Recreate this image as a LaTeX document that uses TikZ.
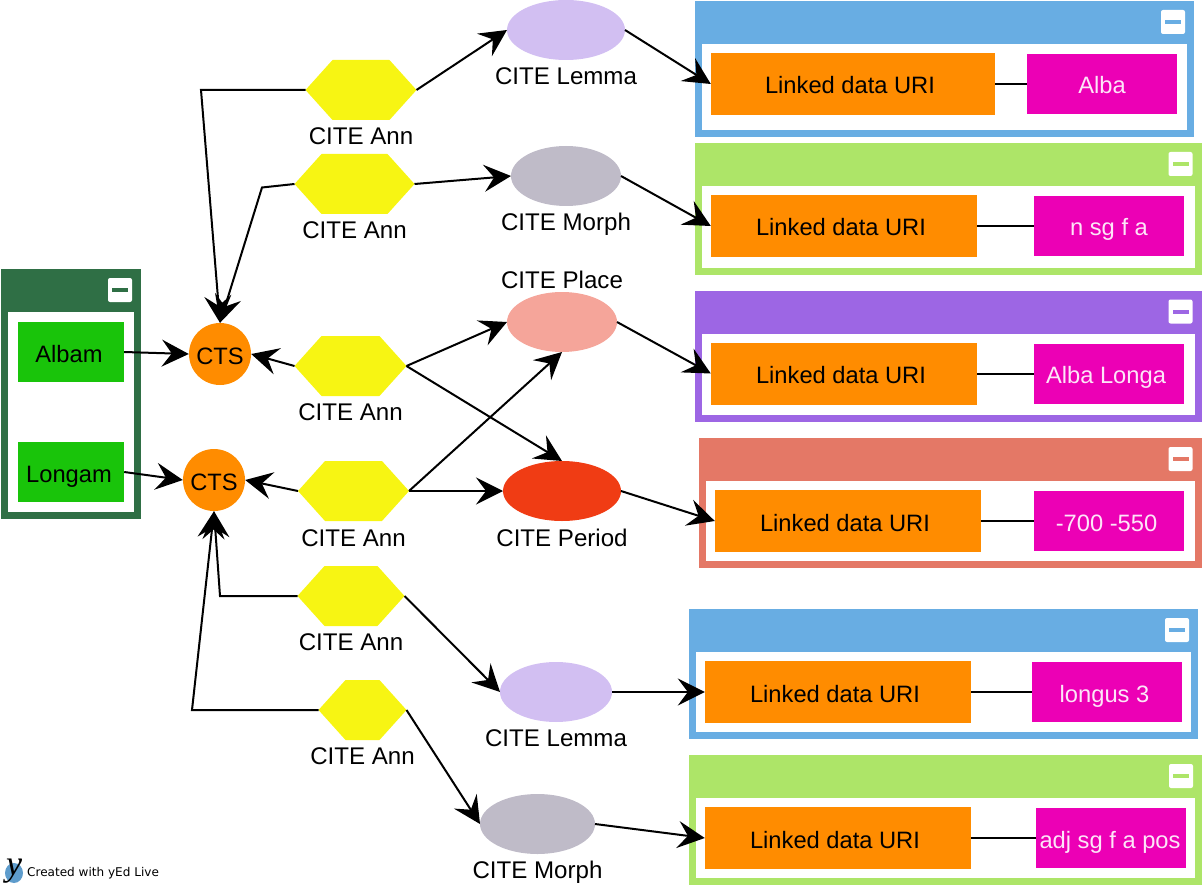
\documentclass[tikz,border=0pt]{standalone}
\usepackage{fontspec}
\setmainfont{Liberation Sans}
\newfontfamily\logofont{DejaVu Sans}
\newfontfamily\logoy{Liberation Serif}
\usepackage{xcolor}
\usetikzlibrary{positioning,arrows.meta,shapes.geometric,shapes.symbols,fit}

\definecolor{hexyellow}{HTML}{F7F513}
\definecolor{ctsorange}{HTML}{FF8C00}
\definecolor{wordgreen}{HTML}{19C40A}
\definecolor{valuepink}{HTML}{EC00B5}
\definecolor{framedark}{HTML}{2F6F45}
\definecolor{frameblue}{HTML}{68ADE3}
\definecolor{framelime}{HTML}{ADE568}
\definecolor{framepurple}{HTML}{9D66E4}
\definecolor{framesalmon}{HTML}{E47866}
\definecolor{lemmalilac}{HTML}{D2BFF2}
\definecolor{morphgray}{HTML}{BFBBC8}
\definecolor{placepink}{HTML}{F5A59A}
\definecolor{periodred}{HTML}{F03C14}

% group frame: name, colour, left, top, right, bottom
\newcommand{\groupframe}[6]{
  \coordinate (#1nw) at (#3,#4);
  \coordinate (#1se) at (#5,#6);
  \node[framebox, fill=#2, fit=(#1nw)(#1se)] (#1) {};
  \coordinate (#1inw) at (#3+7,#4+43);
  \coordinate (#1ise) at (#5-7,#6-7);
  \node[framebox, fill=white, fit=(#1inw)(#1ise)] (#1inner) {};
  \node[button] (#1btn) at (#5-21,#4+21) {};
  \node[btnbar, fill=#2] (#1bar) at (#1btn) {};
}

\begin{document}
\begin{tikzpicture}[
  x=1pt, y=-1pt,
  every node/.style={font=\fontsize{23.7}{28}\selectfont},
  nudge/.style={execute at end node={\kern#1}},
  lowered/.style={text height=20pt, text depth=0pt},
  framebox/.style={inner sep=0pt, outer sep=0pt},
  button/.style={fill=white, rounded corners=2pt, minimum size=24pt, inner sep=0pt},
  btnbar/.style={minimum width=16pt, minimum height=4pt, inner sep=0pt},
  word/.style={lowered, fill=wordgreen, minimum width=106pt, minimum height=60pt, inner sep=0pt, nudge=4pt},
  cts/.style={lowered, circle, fill=ctsorange, minimum size=62pt, inner sep=0pt},
  hexa/.style={signal, signal to=east and west, signal pointer angle=96, fill=hexyellow, minimum height=60pt, inner sep=0pt, outer sep=0pt},
  ent/.style={ellipse, minimum height=60pt, inner sep=0pt, outer sep=0pt},
  uri/.style={lowered, fill=ctsorange, minimum width=266pt, minimum height=62pt, inner sep=0pt, nudge=6pt},
  val/.style={lowered, fill=valuepink, text=white!90!valuepink, minimum width=150pt, minimum height=60pt, inner sep=0pt},
  lab/.style={inner sep=0pt, font=\fontsize{24.1}{28}\selectfont},
  edge/.style={-{Stealth[length=27pt, width=27pt, inset=10pt]}, line width=2pt},
  plain/.style={line width=2pt}
]
\useasboundingbox (0,0) rectangle (1204,885);

% Group frames
\groupframe{gwords}{framedark}{1}{269}{141}{519}
\groupframe{gone}{frameblue}{695}{1}{1194}{137}
\groupframe{gtwo}{framelime}{695}{143}{1201.5}{275}
\groupframe{gthree}{framepurple}{695}{290.5}{1201.5}{422}
\groupframe{gfour}{framesalmon}{699}{438}{1201.5}{568}
\groupframe{gfive}{frameblue}{689}{609}{1198}{739}
\groupframe{gsix}{framelime}{689}{755}{1202}{885}

% Words and CTS
\node[word] (albam) at (71,352) {Albam};
\node[word] (longam) at (71,472) {Longam};
\node[cts] (cts1) at (220,354) {CTS};
\node[cts] (cts2) at (214,480) {CTS};

% Annotations
\node[hexa, minimum width=111pt] (ann1) at (361,90) {};
\node[lab, below=7pt of ann1] (ann1lab) {CITE Ann};
\node[hexa, minimum width=120pt] (ann2) at (354.5,184) {};
\node[lab, below=7.5pt of ann2] (ann2lab) {CITE Ann};
\node[hexa, minimum width=112pt] (ann3) at (350.5,366) {};
\node[lab, below=7pt of ann3] (ann3lab) {CITE Ann};
\node[hexa, minimum width=111pt] (ann4) at (353.5,491) {};
\node[lab, below=8pt of ann4] (ann4lab) {CITE Ann};
\node[hexa, minimum width=107pt] (ann5) at (351,596) {};
\node[lab, below=7pt of ann5] (ann5lab) {CITE Ann};
\node[hexa, minimum width=88pt] (ann6) at (362.5,710) {};
\node[lab, below=7pt of ann6] (ann6lab) {CITE Ann};

% Entities
\node[ent, fill=lemmalilac, minimum width=118pt] (lemma1) at (566,30) {};
\node[lab, below=7pt of lemma1] (lemma1lab) {CITE Lemma};
\node[ent, fill=morphgray, minimum width=110pt] (morph1) at (566,176) {};
\node[lab, below=7pt of morph1] (morph1lab) {CITE Morph};
\node[ent, fill=placepink, minimum width=110pt] (place) at (562,322) {};
\node[lab, above=3pt of place] (placelab) {CITE Place};
\node[ent, fill=periodred, minimum width=118pt] (period) at (562,491) {};
\node[lab, below=8pt of period] (periodlab) {CITE Period};
\node[ent, fill=lemmalilac, minimum width=112pt] (lemma2) at (556,692) {};
\node[lab, below=7pt of lemma2] (lemma2lab) {CITE Lemma};
\node[ent, fill=morphgray, minimum width=115pt] (morph2) at (537.5,824) {};
\node[lab, below=7pt of morph2] (morph2lab) {CITE Morph};

% Linked data boxes
\node[uri, minimum width=284pt] (uri1) at (853,84) {Linked data URI};
\node[val] (val1) at (1102,84) {Alba};
\node[uri] (uri2) at (844,226) {Linked data URI};
\node[val] (val2) at (1109,226) {n sg f a};
\node[uri] (uri3) at (844,373.5) {Linked data URI};
\node[val, nudge=6pt] (val3) at (1109,373.5) {Alba Longa};
\node[uri] (uri4) at (848,521) {Linked data URI};
\node[val, nudge=5pt] (val4) at (1109,521) {-700 -550};
\node[uri] (uri5) at (838,692) {Linked data URI};
\node[val, nudge=5pt] (val5) at (1107,692) {longus 3};
\node[uri] (uri6) at (838,838) {Linked data URI};
\node[val, nudge=2pt] (val6) at (1111,838) {adj sg f a pos};

% Edges into CTS
\draw[edge] (albam.east) -- (cts1.west);
\draw[edge] (longam.east) -- (cts2.west);
\draw[edge] (ann1.west) -- (201,90) -- (cts1.north);
\draw[edge] (ann2.west) -- (262,187.5) -- (cts1.north);
\draw[edge] (ann3.west) -- (cts1.east);
\draw[edge] (ann4.west) -- (cts2.east);
\draw[edge] (ann5.west) -- (220,596) -- (cts2.south);
\draw[edge] (ann6.west) -- (192,710) -- (cts2.south);

% Edges to entities
\draw[edge] (ann1.east) -- (lemma1.west);
\draw[edge] (ann2.east) -- (morph1.west);
\draw[edge] (ann3.east) -- (place.west);
\draw[edge] (ann3.east) -- (period.north);
\draw[edge] (ann4.east) -- (place.south);
\draw[edge] (ann4.east) -- (period.west);
\draw[edge] (ann5.east) -- (lemma2.west);
\draw[edge] (ann6.east) -- (morph2.west);

% Edges to linked data
\draw[edge] (lemma1.east) -- (uri1.west);
\draw[edge] (morph1.east) -- (uri2.west);
\draw[edge] (place.east) -- (uri3.west);
\draw[edge] (period.east) -- (uri4.west);
\draw[edge] (lemma2.east) -- (uri5.west);
\draw[edge] (morph2.east) -- (uri6.west);
\draw[plain] (uri1) -- (val1);
\draw[plain] (uri2) -- (val2);
\draw[plain] (uri3) -- (val3);
\draw[plain] (uri4) -- (val4);
\draw[plain] (uri5) -- (val5);
\draw[plain] (uri6) -- (val6);

% Logo
\node[ellipse, fill=frameblue!90!black, minimum width=18pt, minimum height=20pt, inner sep=0pt] (logo) at (14,873) {};
\node[inner sep=0pt, font=\logoy\itshape\fontsize{36}{36}\selectfont] (logoy) at (14,871) {y};
\node[inner sep=0pt, anchor=west, font=\logofont\fontsize{12.05}{14}\selectfont] (credit) at (27,873) {Created with yEd Live};
\end{tikzpicture}
\end{document}
